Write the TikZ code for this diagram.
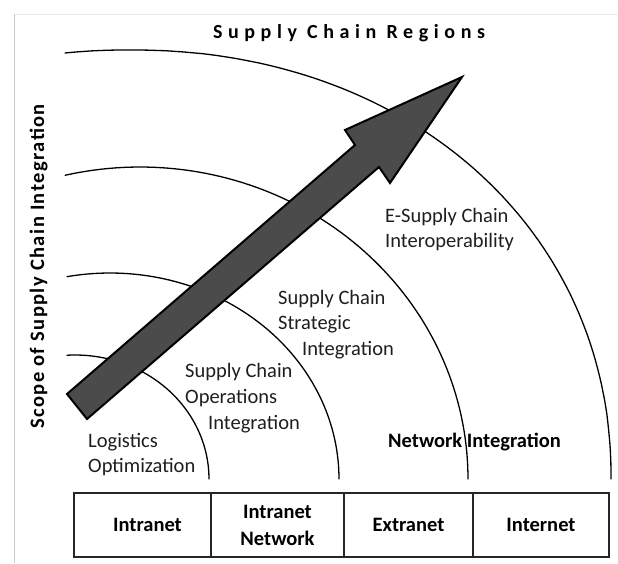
\documentclass[tikz,border=0pt]{standalone}
\usepackage{fontspec}
\setmainfont{Carlito}
\definecolor{arrowgray}{HTML}{4B4B4B}
\definecolor{framegray}{HTML}{C8C8C8}
\definecolor{frametop}{HTML}{EBEBEB}
\definecolor{textgray}{HTML}{1E1E1E}
\begin{document}
\begin{tikzpicture}[x=1pt,y=-1pt,
  arcline/.style={line width=1.3pt, line cap=round},
  lbl/.style={anchor=base west, inner sep=0pt, text=textgray, font=\fontsize{20.5}{25}\selectfont},
  lblb/.style={lbl, text=black, font=\fontsize{20.5}{25}\selectfont\bfseries},
  cell/.style={draw=black!85, line width=1.6pt, minimum height=64pt, inner sep=0pt,
    align=center, font=\fontsize{20.5}{27}\selectfont\bfseries},
  bigarrow/.style={fill=arrowgray, draw=black, line width=2pt, line join=miter}
  ]
\useasboundingbox (0,0) rectangle (618,563);
% faint frame
\draw[frametop, line width=1pt] (14,14) -- (618,14);
\draw[framegray, line width=1pt] (14,14) -- (14,563);

% title
\node[anchor=base, inner sep=0pt,
  font=\fontsize{20}{24}\selectfont\bfseries\addfontfeatures{LetterSpace=28}]
  (title) at (349,38) {Supply Chain Regions};

% vertical axis label
\node[anchor=base west, rotate=90, inner sep=0pt,
  font=\fontsize{20.5}{25}\selectfont\bfseries\addfontfeatures{LetterSpace=7}]
  (scope) at (44,429) {Scope of Supply Chain Integration};

% arcs
\draw[arcline] plot[domain=0:97, samples=100, variable=\t]
  ({130+481*sign(cos(\t))*pow(abs(cos(\t))+0.0001,0.952)}, {479-429*pow(sin(\t)+0.0001,0.952)});
\draw[arcline] plot[domain=0:103.2, samples=80, variable=\t] ({140+328*cos(\t)}, {479-312*sin(\t)});
\draw[arcline] plot[domain=0:100.8, samples=80, variable=\t] ({110+229*cos(\t)}, {479-206*sin(\t)});
\draw[arcline] plot[domain=0:93.4, samples=60, variable=\t] ({75+134*cos(\t)}, {479-124*sin(\t)});

% big arrow
\draw[bigarrow] (67,394) -- (355,145) -- (345,130) -- (462,77) -- (390,183) -- (379,167) -- (87,419) -- cycle;

% region labels
\node[lbl] (log1) at (88,447) {Logistics};
\node[lbl] (log2) at (88,472) {Optimization};

\node[lbl] (ops1) at (185,377) {Supply Chain};
\node[lbl] (ops2) at (185,403) {Operations};
\node[lbl] (ops3) at (208,429) {Integration};

\node[lbl] (str1) at (278,304) {Supply Chain};
\node[lbl] (str2) at (278,329) {Strategic};
\node[lbl] (str3) at (302,355) {Integration};

\node[lbl] (esc1) at (385,222) {E-Supply Chain};
\node[lbl] (esc2) at (385,247) {Interoperability};

\node[lblb] (netint) at (388,447) {Network Integration};

% table
\node[cell, minimum width=137pt] (c1) at (142.5,525) {\hspace*{10pt}Intranet};
\node[cell, minimum width=133pt] (c2) at (277.5,525) {Intranet\\Network};
\node[cell, minimum width=129pt] (c3) at (408.5,525) {Extranet};
\node[cell, minimum width=136pt] (c4) at (541,525) {Internet};
\end{tikzpicture}
\end{document}
